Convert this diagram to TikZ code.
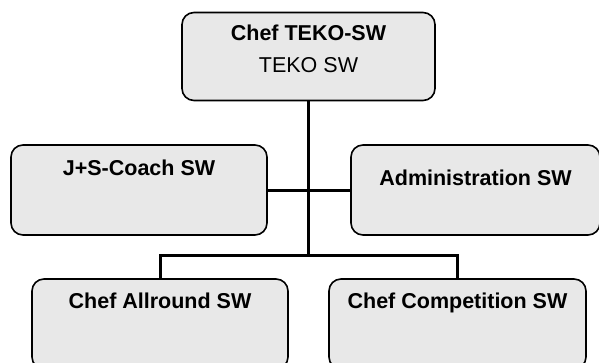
\documentclass[tikz,border=0pt]{standalone}
\usepackage{fontspec}
\setmainfont{Liberation Sans}
\usetikzlibrary{positioning}
\definecolor{boxgray}{RGB}{232,232,232}
\tikzset{
  box/.style  = {rectangle, draw, line width=1.6pt, rounded corners=12pt,
                 fill=boxgray, inner sep=0pt, align=center,
                 font=\fontsize{21.5}{31.5}\selectfont},
  conn/.style = {line width=3pt}
}
\begin{document}
\begin{tikzpicture}[x=1pt, y=-1pt]
    \useasboundingbox (0,0) rectangle (599,362);
    \node[box, minimum width=253pt, text height=59.5pt, text depth=28.5pt]
      (chef) at (308.5,56.5) {\textbf{Chef TEKO-SW}\\TEKO SW};
    \node[box, minimum width=256pt, text height=30pt, text depth=60pt]
      (coach) at (139,190) {\textbf{J+S-Coach SW}};
    \node[box, minimum width=249pt, text height=40pt, text depth=50pt]
      (admin) at (475.5,190) {\textbf{Administration SW}};
    \node[box, minimum width=256pt, text height=29pt, text depth=61pt]
      (allround) at (160,324) {\textbf{Chef Allround SW}};
    \node[box, minimum width=257pt, text height=29pt, text depth=61pt]
      (comp) at (457.5,324) {\textbf{Chef Competition SW}};
    % Verbindungen
    \coordinate (busy) at (0,255);
    \coordinate (bus) at (chef.south |- busy);
    \draw[conn] (chef.south) -- (bus);
    \draw[conn] (coach.east) -- (admin.west);
    \draw[conn] (allround.north) |- (bus) -| (comp.north);
\end{tikzpicture}
\end{document}
